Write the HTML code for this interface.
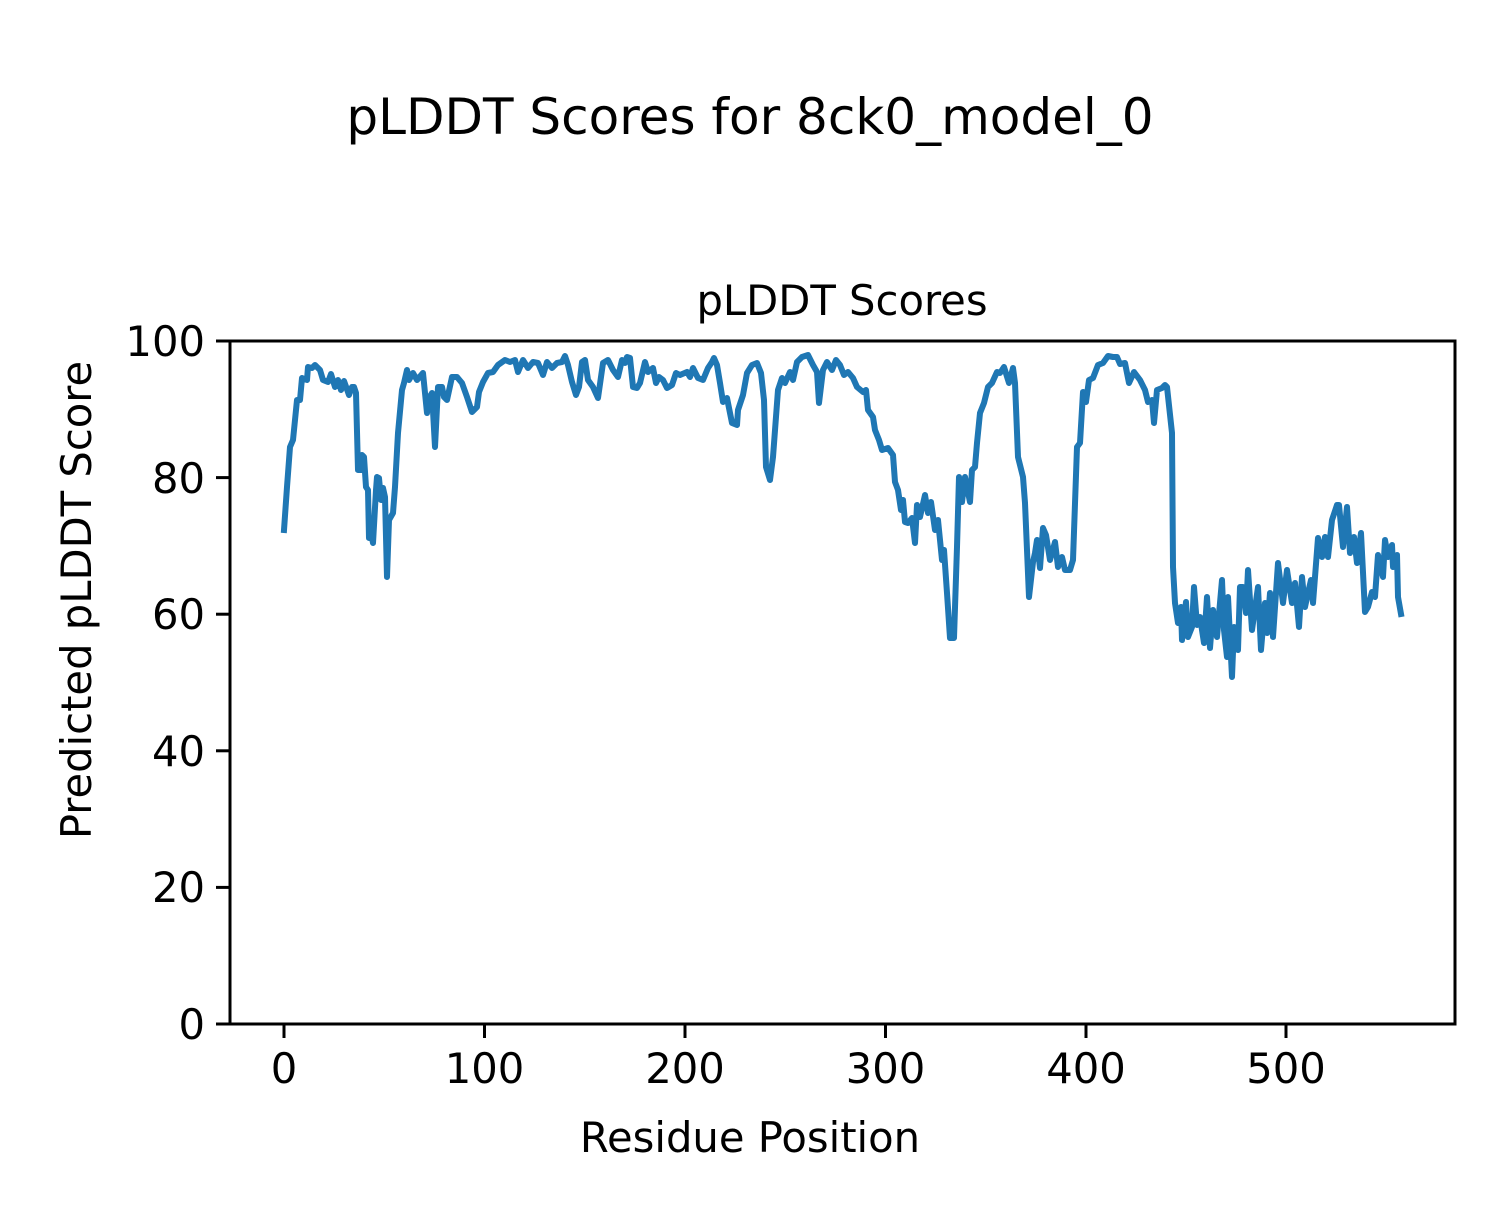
<!DOCTYPE html>
<html><head><meta charset="utf-8"><style>html,body{margin:0;padding:0;background:#fff}</style></head>
<body>
<svg width="1500" height="1200" viewBox="0 0 1500 1200" xmlns="http://www.w3.org/2000/svg" font-family="'DejaVu Sans','Liberation Sans',sans-serif">
<rect width="1500" height="1200" fill="#fff"/>
<text x="750" y="134" font-size="50" text-anchor="middle">pLDDT Scores for 8ck0_model_0</text>
<text x="842" y="315" font-size="41.7" text-anchor="middle">pLDDT Scores</text>
<polyline fill="none" stroke="#1f77b4" stroke-width="6" stroke-linejoin="round" stroke-linecap="square" points="284,530 287,487 290,447 293,440 297,400 300,400 302,378 307,380 308,367 312,368 315,365 320,370 323,380 328,382 331,374 335,387 338,380 341,390 344,381 349,395 352,387 354,387 356,393 358,470 361,470 362,455 364,457 366,487 368,490 369,538 371,533 373,543 376,490 377,477 379,478 381,500 383,488 385,497 387,577 389,520 393,513 395,487 398,433 402,390 404,383 407,370 409,380 413,373 417,380 423,373 427,413 429,398 432,393 435,447 438,387 442,387 444,397 447,400 452,377 457,377 462,383 467,397 472,412 477,407 479,392 483,382 488,373 493,372 498,365 505,360 510,362 515,360 518,372 523,360 528,368 533,362 538,363 543,375 547,362 552,368 557,363 562,362 565,356 568,365 572,382 576,395 579,387 582,362 585,360 588,380 593,387 598,398 603,363 608,360 613,370 618,377 622,360 625,363 627,357 630,358 633,387 637,388 640,383 645,362 648,372 653,368 656,383 659,377 663,380 667,388 672,385 676,373 680,375 687,372 690,377 693,368 698,378 703,380 708,368 712,362 714,358 717,365 720,383 723,402 727,398 732,423 737,425 738,410 743,395 747,373 752,365 757,363 761,373 764,400 766,467 770,480 773,457 778,390 782,378 785,383 790,372 793,380 797,362 802,357 808,355 813,365 817,372 819,403 823,370 827,362 832,370 836,360 840,365 844,375 848,372 853,378 857,387 863,392 866,390 868,410 873,417 875,430 879,440 882,450 888,448 893,455 895,482 898,490 901,510 903,500 905,522 908,523 912,518 915,543 917,505 920,517 925,495 928,513 931,502 935,530 938,520 942,560 944,550 947,593 950,638 954,638 957,547 959,477 962,502 965,477 970,502 972,470 975,467 977,443 980,413 984,403 988,387 992,383 997,372 1000,373 1004,367 1009,383 1013,368 1015,383 1018,457 1023,477 1025,503 1029,597 1033,562 1035,553 1037,540 1040,568 1043,528 1046,535 1050,560 1055,542 1058,567 1062,557 1065,570 1070,570 1073,560 1077,447 1080,443 1083,392 1086,402 1089,380 1093,378 1098,365 1103,363 1108,356 1113,357 1117,357 1120,364 1125,363 1129,383 1134,372 1140,380 1145,390 1148,402 1152,400 1154,423 1157,390 1162,388 1165,385 1167,387 1172,433 1173,567 1175,603 1178,623 1181,607 1182,640 1186,602 1188,637 1192,627 1194,587 1197,625 1200,617 1204,643 1207,597 1210,648 1213,610 1217,637 1222,580 1224,630 1227,657 1228,597 1232,677 1234,627 1238,650 1240,587 1243,587 1246,613 1248,570 1252,630 1258,587 1261,650 1265,603 1267,633 1270,593 1273,637 1278,563 1283,603 1287,570 1292,603 1295,583 1299,627 1302,577 1305,607 1308,593 1311,580 1313,603 1318,538 1322,557 1325,537 1328,557 1332,520 1337,505 1339,505 1343,547 1347,507 1350,553 1354,537 1357,563 1361,533 1365,612 1368,607 1372,592 1375,597 1378,555 1383,577 1385,540 1388,557 1392,545 1393,567 1397,555 1398,597 1401,614"/>
<rect x="230" y="341" width="1225" height="683" fill="none" stroke="#000" stroke-width="3"/>
<g stroke="#000" stroke-width="3">
<line x1="284" y1="1024" x2="284" y2="1038"/><line x1="484.5" y1="1024" x2="484.5" y2="1038"/><line x1="685" y1="1024" x2="685" y2="1038"/><line x1="885.5" y1="1024" x2="885.5" y2="1038"/><line x1="1086" y1="1024" x2="1086" y2="1038"/><line x1="1286" y1="1024" x2="1286" y2="1038"/>
<line x1="216" y1="1024" x2="230" y2="1024"/><line x1="216" y1="887.4" x2="230" y2="887.4"/><line x1="216" y1="750.8" x2="230" y2="750.8"/><line x1="216" y1="614.2" x2="230" y2="614.2"/><line x1="216" y1="477.6" x2="230" y2="477.6"/><line x1="216" y1="341" x2="230" y2="341"/>
</g>
<g font-size="41.7" text-anchor="middle">
<text x="284" y="1083">0</text><text x="484.5" y="1083">100</text><text x="685" y="1083">200</text><text x="885.5" y="1083">300</text><text x="1086" y="1083">400</text><text x="1286" y="1083">500</text>
</g>
<g font-size="41.7" text-anchor="end">
<text x="205" y="1039">0</text><text x="205" y="902">20</text><text x="205" y="766">40</text><text x="205" y="629">60</text><text x="205" y="493">80</text><text x="205" y="356">100</text>
</g>
<text x="750" y="1152" font-size="41.7" text-anchor="middle">Residue Position</text>
<text x="0" y="0" font-size="41.7" text-anchor="middle" transform="translate(91,600) rotate(-90)">Predicted pLDDT Score</text>
</svg>
</body></html>
